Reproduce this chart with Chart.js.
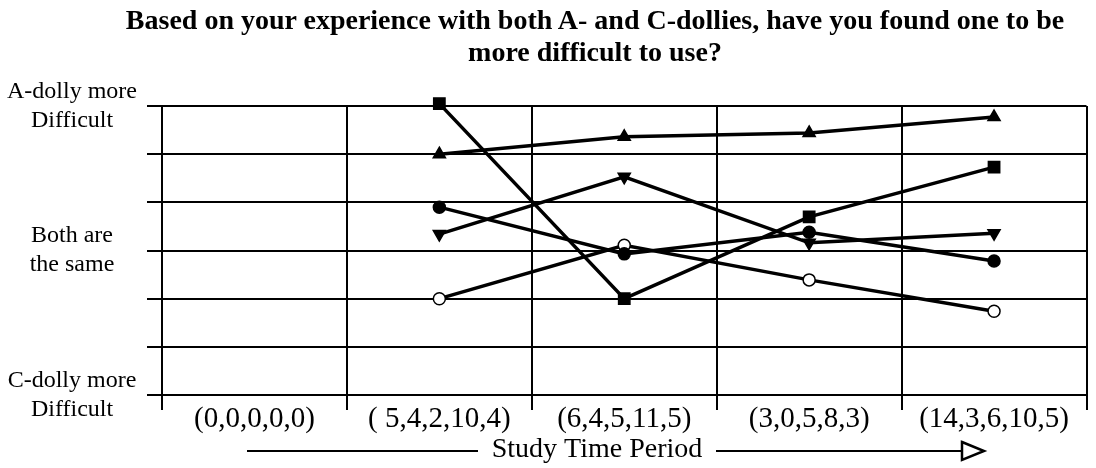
<!DOCTYPE html>
<html>
<head>
<meta charset="utf-8">
<script src="https://cdn.jsdelivr.net/npm/chart.js@4.4.1/dist/chart.umd.min.js"></script>
<style>
  html, body { margin: 0; padding: 0; background: #fff; overflow: hidden; }
  #wrap { position: relative; width: 1096px; height: 468px; }
  #title { position: absolute; left: 95px; width: 1000px; top: 4px; text-align: center;
           font: bold 28px "Liberation Serif", "Times New Roman", serif; line-height: 32px; color: #000; }
  canvas { position: absolute; left: 0; top: 0; }
</style>
</head>
<body>
<div id="wrap">
  <canvas id="c" width="1096" height="468"></canvas>
  <div id="title">Based on your experience with both A- and C-dollies, have you found one to be<br>more difficult to use?</div>
</div>
<script>
// ---- data ----
const categories = ['(0,0,0,0,0)', '( 5,4,2,10,4)', '(6,4,5,11,5)', '(3,0,5,8,3)', '(14,3,6,10,5)'];
const squareSeries = [null, 3.05, -1.0, 0.70, 1.73];
const triangleSeries = [null, 2.0, 2.36, 2.44, 2.77];
const invTriangleSeries = [null, 0.34, 1.53, 0.16, 0.36];
const circleSeries = [null, 0.90, -0.07, 0.38, -0.22];
const openCircleSeries = [null, -1.0, 0.11, -0.61, -1.26];
const yTickLabels = { '3': ['A-dolly more', 'Difficult'], '0': ['Both are', 'the same'], '-3': ['C-dolly more', 'Difficult'] };
const xAxisTitle = 'Study Time Period';

const FONT = '"Liberation Serif", "Times New Roman", serif';

function ds(data, style, fill, radius, rotation) {
  return {
    data: data,
    borderColor: '#000',
    borderWidth: 3.5,
    pointStyle: style,
    pointRotation: rotation || 0,
    pointRadius: radius,
    pointBackgroundColor: fill,
    pointBorderColor: '#000',
    pointBorderWidth: 1.5,
    spanGaps: false,
    tension: 0,
    clip: false
  };
}

const xTitlePlugin = {
  id: 'xTitlePlugin',
  afterDraw(chart) {
    const ctx = chart.ctx;
    ctx.save();
    ctx.font = '28px ' + FONT;
    ctx.fillStyle = '#000';
    ctx.textAlign = 'center';
    ctx.textBaseline = 'middle';
    const cx = 597, cy = 450;
    ctx.fillText(xAxisTitle, cx, cy);
    ctx.strokeStyle = '#000';
    ctx.lineWidth = 2;
    const ly = 451;
    ctx.beginPath();
    ctx.moveTo(247, ly); ctx.lineTo(478, ly);
    ctx.moveTo(716, ly); ctx.lineTo(962, ly);
    ctx.stroke();
    ctx.lineWidth = 2.5;
    ctx.fillStyle = '#fff';
    ctx.beginPath();
    ctx.moveTo(962, ly - 9); ctx.lineTo(984, ly); ctx.lineTo(962, ly + 9); ctx.closePath();
    ctx.fill(); ctx.stroke();
    ctx.restore();
  }
};

new Chart(document.getElementById('c'), {
  type: 'line',
  data: {
    labels: categories,
    datasets: [
      ds(squareSeries, 'rect', '#000', 8),
      ds(triangleSeries, 'triangle', '#000', 7),
      ds(invTriangleSeries, 'triangle', '#000', 7, 180),
      ds(circleSeries, 'circle', '#000', 6),
      ds(openCircleSeries, 'circle', '#fff', 6)
    ]
  },
  options: {
    responsive: false,
    devicePixelRatio: 1,
    animation: false,
    layout: { padding: { top: 106, left: 0, right: 6, bottom: 0 } },
    plugins: { legend: { display: false }, tooltip: { enabled: false }, title: { display: false } },
    scales: {
      x: {
        type: 'category',
        offset: true,
        grid: { offset: true, color: '#000', lineWidth: 2, tickLength: 15, drawTicks: true },
        border: { color: '#000', width: 2 },
        ticks: { color: '#000', font: { family: FONT, size: 29 }, padding: -8, maxRotation: 0, autoSkip: false },
        afterFit(s) { s.height = 73; }
      },
      y: {
        min: -3, max: 3,
        grid: { color: '#000', lineWidth: 2, tickLength: 15, drawTicks: true },
        border: { color: '#000', width: 2 },
        ticks: {
          stepSize: 1,
          autoSkip: false,
          color: '#000',
          crossAlign: 'center',
          padding: 10,
          font: { family: FONT, size: 24 },
          callback: (v) => yTickLabels[String(v)] || ''
        },
        afterFit(s) { s.width = 162; }
      }
    }
  },
  plugins: [xTitlePlugin]
});
</script>
</body>
</html>
